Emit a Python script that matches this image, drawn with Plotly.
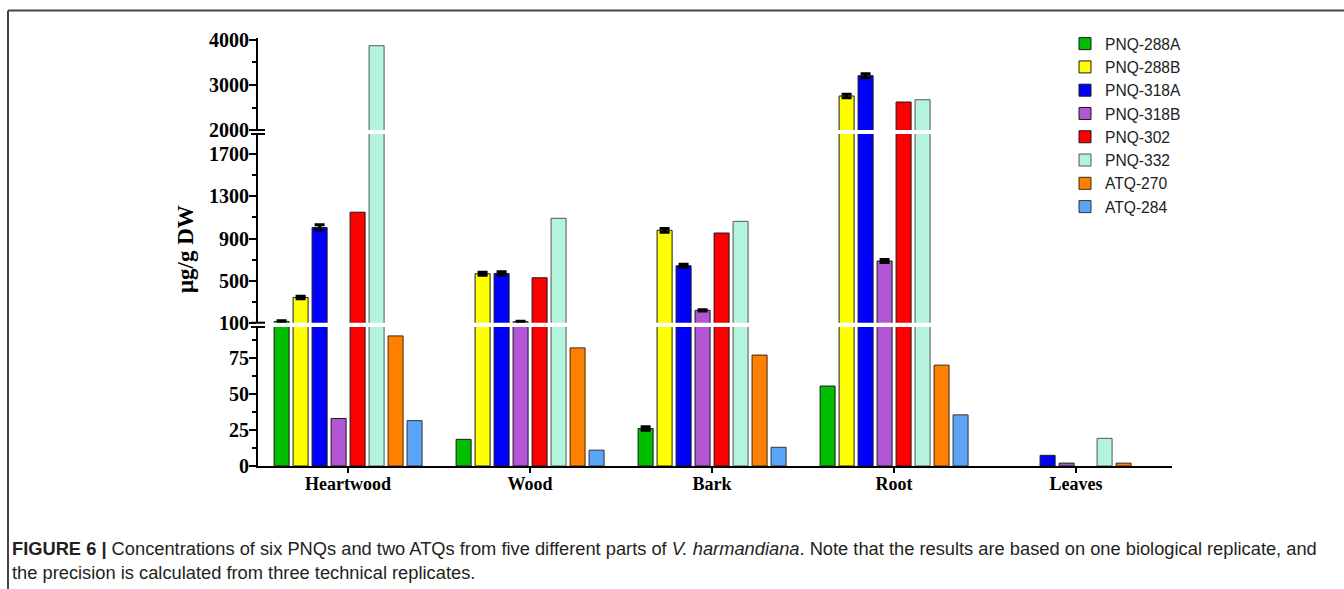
import plotly.graph_objects as go

# ---------------- data ----------------
categories = ["Heartwood", "Wood", "Bark", "Root", "Leaves"]
series_names = ["PNQ-288A", "PNQ-288B", "PNQ-318A", "PNQ-318B",
                "PNQ-302", "PNQ-332", "ATQ-270", "ATQ-284"]

# None = not detected (no bar drawn)
pnq_288a = [112, 18.5, 26, 55.5, None]
pnq_288b = [340, 565, 978, 2756, None]
pnq_318a = [1005, 568, 641, 3207, 7.4]
pnq_318b = [33, 110, 218, 686, 2]
pnq_302 = [1150, 527, 952, 2622, None]
pnq_332 = [3873, 1092, 1063, 2673, 19.2]
atq_270 = [90.3, 82, 77, 70, 2]
atq_284 = [31.5, 11, 13, 35.5, None]

# standard deviations (None = no visible error bar)
err_288a = [6, None, 1.2, None, None]
err_288b = [12, 15, 18, 40, None]
err_318a = [25, 15, 15, 45, None]
err_318b = [None, 4, 6, 15, None]
err_302 = None
err_332 = None
err_270 = None
err_284 = None

values = [pnq_288a, pnq_288b, pnq_318a, pnq_318b, pnq_302, pnq_332, atq_270, atq_284]
errors = [err_288a, err_288b, err_318a, err_318b, err_302, err_332, err_270, err_284]

colors = ["#00BE00", "#FFFF00", "#0000FF", "#B356D6",
          "#FF0000", "#B4F4DD", "#FF8000", "#5AA5F7"]
line_colors = ["#1a1a1a", "#1a1a1a", "#1a1a1a", "#1a1a1a",
               "#1a1a1a", "#555555", "#3a2a10", "#333333"]

# y-axis segments (broken axis)
seg_ranges = [[0, 96.5], [100, 1893], [2000, 4044]]
seg_domains = [[0, 0.3248], [0.3348, 0.7757], [0.785, 1.0]]
seg_ticks = [[0, 25, 50, 75], [100, 500, 900, 1300, 1700], [2000, 3000, 4000]]
seg_minor = [dict(tick0=0, dtick=12.5), dict(tick0=100, dtick=200), dict(tick0=2000, dtick=500)]

# ---------------- figure ----------------
W, H = 1344, 589
L, R, T, B = 258, 172, 38, 123
PW, PH = W - L - R, H - T - B


def px_x(x):
    return (x - L) / PW


def px_y(y):
    return (H - B - y) / PH


fig = go.Figure()
axis_ids = ["y", "y2", "y3"]
for name, vals, errs, col, lc in zip(series_names, values, errors, colors, line_colors):
    for k, ax in enumerate(axis_ids):
        err = None
        if errs is not None:
            arr = [e if e is not None else "NaN" for e in errs]
            err = dict(type="data", array=arr, visible=True, color="black",
                       thickness=3, width=5)
        fig.add_trace(go.Bar(
            x=categories, y=vals, name=name, legendgroup=name,
            showlegend=(k == 0), xaxis="x", yaxis=ax,
            marker=dict(color=col, line=dict(color=lc, width=1)),
            error_y=err,
        ))

tick_font = dict(family="Liberation Serif", size=20, color="black", weight="bold")
common_y = dict(showline=True, linecolor="black", linewidth=2, ticks="outside",
                ticklen=7, tickwidth=2, tickcolor="black", showgrid=False,
                zeroline=False, tickfont=tick_font, anchor="x", automargin=False,
                ticklabelstandoff=-4)

layout_axes = {}
for k, ax in enumerate(["yaxis", "yaxis2", "yaxis3"]):
    layout_axes[ax] = dict(common_y, domain=seg_domains[k], range=seg_ranges[k],
                           tickmode="array", tickvals=seg_ticks[k],
                           minor=dict(seg_minor[k], ticks="outside", ticklen=4,
                                      tickwidth=2, tickcolor="black", showgrid=False))

fig.update_layout(
    width=W, height=H,
    margin=dict(l=L, r=R, t=T, b=B, autoexpand=False),
    paper_bgcolor="white", plot_bgcolor="white",
    barmode="group", bargap=0.165, bargroupgap=0.21,
    xaxis=dict(domain=[0, 1], range=[-0.495, 4.527], anchor="y",
               showline=True, linecolor="black", linewidth=2,
               ticks="outside", ticklen=5, tickwidth=2, tickcolor="black",
               showgrid=False, zeroline=False, automargin=False,
               ticklabelstandoff=-5,
               tickfont=dict(family="Liberation Serif", size=18, color="black", weight="bold")),
    legend=dict(xref="paper", yref="paper", x=px_x(1065), y=px_y(27),
                xanchor="left", yanchor="top", bgcolor="rgba(0,0,0,0)",
                font=dict(family="Liberation Sans", size=15.6, color="#222222"),
                tracegroupgap=0),
    showlegend=True,
    **layout_axes,
)

# axis break marks
shapes = []
for yb in [seg_domains[0][1], seg_domains[1][0], seg_domains[1][1], seg_domains[2][0]]:
    shapes.append(dict(type="line", xref="paper", yref="paper",
                       x0=px_x(251), x1=px_x(265), y0=yb, y1=yb,
                       line=dict(color="black", width=2)))
# figure frame
shapes.append(dict(type="line", xref="paper", yref="paper",
                   x0=px_x(8), x1=px_x(1344), y0=px_y(10.5), y1=px_y(10.5),
                   line=dict(color="#444444", width=2)))
shapes.append(dict(type="line", xref="paper", yref="paper",
                   x0=px_x(8), x1=px_x(8), y0=px_y(10.5), y1=px_y(600),
                   line=dict(color="#444444", width=2)))
fig.update_layout(shapes=shapes)

annotations = [
    dict(text="μg/g DW", xref="paper", yref="paper", x=px_x(185), y=px_y(249),
         textangle=-90, showarrow=False, xanchor="center", yanchor="middle",
         font=dict(family="Liberation Serif", size=23, color="black", weight="bold")),
    dict(text="<b>FIGURE 6 |</b> Concentrations of six PNQs and two ATQs from five different parts of "
              "<i>V. harmandiana</i>. Note that the results are based on one biological replicate, and",
         xref="paper", yref="paper", x=px_x(10), y=px_y(548), showarrow=False,
         xanchor="left", yanchor="middle", align="left",
         font=dict(family="Liberation Sans", size=18.3, color="#231f20")),
    dict(text="the precision is calculated from three technical replicates.",
         xref="paper", yref="paper", x=px_x(10), y=px_y(572), showarrow=False,
         xanchor="left", yanchor="middle", align="left",
         font=dict(family="Liberation Sans", size=18.3, color="#231f20")),
]
fig.update_layout(annotations=annotations)

fig.write_html("out.html", post_script="document.body.style.margin='0';",
               config={"displayModeBar": False})
